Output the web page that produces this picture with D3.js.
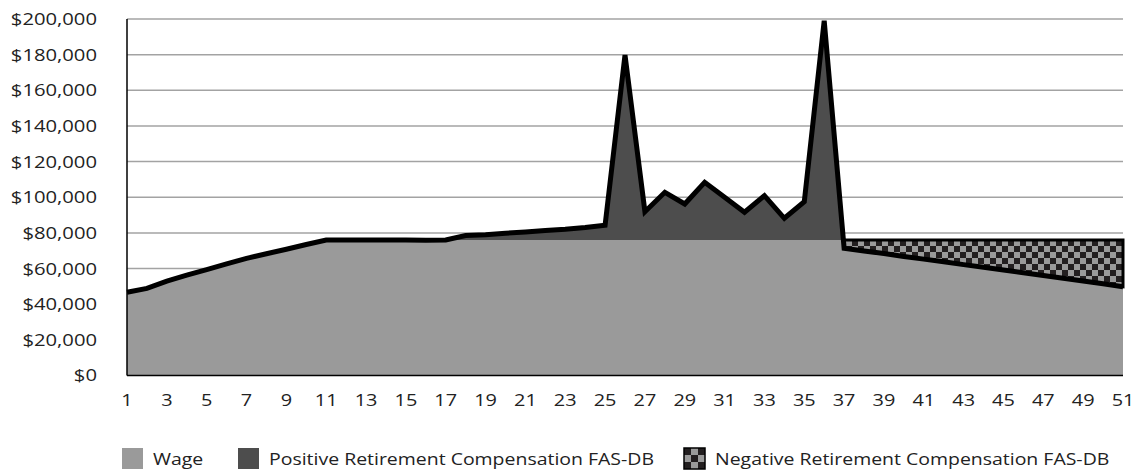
<!DOCTYPE html>
<html>
<head>
<meta charset="utf-8">
<script src="https://cdnjs.cloudflare.com/ajax/libs/d3/7.8.5/d3.min.js"></script>
<style>
body{margin:0;background:#fff;}
text{font-family:"Open Sans",sans-serif;fill:#222;}
</style>
</head>
<body>
<div id="root"></div>
<script>
// values
var years = d3.range(1, 52);
var totalComp = [46700, 48900, 53000, 56300, 59400, 62600, 65700, 68300, 70800, 73500,
                 76000, 76000, 76000, 76000, 76000, 75900, 76000, 78500, 79000, 79800,
                 80500, 81300, 82000, 83000, 84300, 179800, 91900, 102800, 96200, 108400,
                 100000, 91600, 100900, 88200, 97500, 199000, 71400, 69900, 68400, 66800,
                 65300, 63800, 62200, 60700, 59200, 57600, 56100, 54600, 53000, 51500, 49800];
var wageCap = 76000;
var negStart = 37;
var yTicks = d3.range(0, 200001, 20000);
var xTicks = d3.range(1, 52, 2);
var legendNames = ['Wage', 'Positive Retirement Compensation FAS-DB', 'Negative Retirement Compensation FAS-DB'];

var W = 1134, H = 474;
var svg = d3.select('#root').append('svg').attr('width', W).attr('height', H);

var x = d3.scaleLinear().domain([1, 51]).range([127, 1123]);
var y = d3.scaleLinear().domain([0, 200000]).range([375.5, 19]);

var data = years.map(function(d, i){ return {yr: d, v: totalComp[i]}; });

// patterns + clips
var defs = svg.append('defs');
var pat = defs.append('pattern').attr('id', 'checker').attr('patternUnits', 'userSpaceOnUse')
  .attr('width', 12).attr('height', 12);
pat.append('rect').attr('width', 12).attr('height', 12).attr('fill', '#9a9a9a');
pat.append('rect').attr('width', 6).attr('height', 6).attr('fill', '#231f20');
pat.append('rect').attr('x', 6).attr('y', 6).attr('width', 6).attr('height', 6).attr('fill', '#231f20');

var pat2 = defs.append('pattern').attr('id', 'checkerLeg').attr('patternUnits', 'userSpaceOnUse')
  .attr('width', 14).attr('height', 14);
pat2.append('rect').attr('width', 14).attr('height', 14).attr('fill', '#9a9a9a');
pat2.append('rect').attr('width', 7).attr('height', 7).attr('fill', '#231f20');
pat2.append('rect').attr('x', 7).attr('y', 7).attr('width', 7).attr('height', 7).attr('fill', '#231f20');

defs.append('clipPath').attr('id', 'below').append('rect')
  .attr('x', x(1)).attr('y', y(wageCap)).attr('width', x(51) - x(1)).attr('height', y(0) - y(wageCap));
defs.append('clipPath').attr('id', 'above').append('rect')
  .attr('x', x(1)).attr('y', 0).attr('width', x(51) - x(1)).attr('height', y(wageCap));

// gridlines
svg.append('g').selectAll('line').data(yTicks.slice(1)).enter().append('line')
  .attr('x1', x(1)).attr('x2', x(51))
  .attr('y1', function(d){ return y(d); }).attr('y2', function(d){ return y(d); })
  .attr('stroke', '#a3a3a3').attr('stroke-width', 1.5);

var area = d3.area().x(function(d){ return x(d.yr); }).y0(y(0)).y1(function(d){ return y(d.v); });

svg.append('path').datum(data).attr('d', area).attr('fill', '#9a9a9a').attr('clip-path', 'url(#below)');
svg.append('path').datum(data).attr('d', area).attr('fill', '#4d4d4d').attr('clip-path', 'url(#above)');

// negative part: between the wage line and the cap
var negData = data.filter(function(d){ return d.yr >= negStart; });
var negArea = d3.area().x(function(d){ return x(d.yr); }).y0(y(wageCap)).y1(function(d){ return y(d.v); });
svg.append('path').datum(negData).attr('d', negArea).attr('fill', 'url(#checker)')
  .attr('stroke', '#000').attr('stroke-width', 3).attr('stroke-linejoin', 'miter');

// total line
var line = d3.line().x(function(d){ return x(d.yr); }).y(function(d){ return y(d.v); });
svg.append('path').datum(data).attr('d', line).attr('fill', 'none')
  .attr('stroke', '#000').attr('stroke-width', 5).attr('stroke-linejoin', 'miter');

// axes
svg.append('line').attr('x1', x(1)).attr('x2', x(1)).attr('y1', y(200000)).attr('y2', y(0))
  .attr('stroke', '#000').attr('stroke-width', 1.5);
svg.append('line').attr('x1', x(1)).attr('x2', x(51)).attr('y1', y(0)).attr('y2', y(0))
  .attr('stroke', '#000').attr('stroke-width', 1.5);

// text in the reference is a little wider than Open Sans, so stretch it
var fmt = d3.format('$,');
svg.append('g').selectAll('text').data(yTicks).enter().append('text')
  .attr('transform', function(d){ return 'translate(97,' + y(d) + ') scale(1.19,1)'; })
  .attr('dy', '0.35em')
  .attr('text-anchor', 'end').attr('font-size', 17).text(function(d){ return fmt(d); });

svg.append('g').selectAll('text').data(xTicks).enter().append('text')
  .attr('transform', function(d){ return 'translate(' + x(d) + ',400) scale(1.17,1)'; })
  .attr('dy', '0.35em')
  .attr('text-anchor', 'middle').attr('font-size', 17).text(function(d){ return d; });

// legend
var legX = [122, 238, 684];
var legFill = ['#9a9a9a', '#4d4d4d', 'url(#checkerLeg)'];
var leg = svg.append('g').selectAll('g').data(legendNames).enter().append('g')
  .attr('transform', function(d, i){ return 'translate(' + legX[i] + ',448)'; });
leg.append('rect').attr('width', 21).attr('height', 21)
  .attr('fill', function(d, i){ return legFill[i]; })
  .attr('stroke', function(d, i){ return i == 2 ? '#000' : 'none'; }).attr('stroke-width', 1.5);
leg.append('text').attr('transform', 'translate(31,11) scale(1.145,1)').attr('dy', '0.35em').attr('font-size', 17)
  .text(function(d){ return d; });
</script>
</body>
</html>
